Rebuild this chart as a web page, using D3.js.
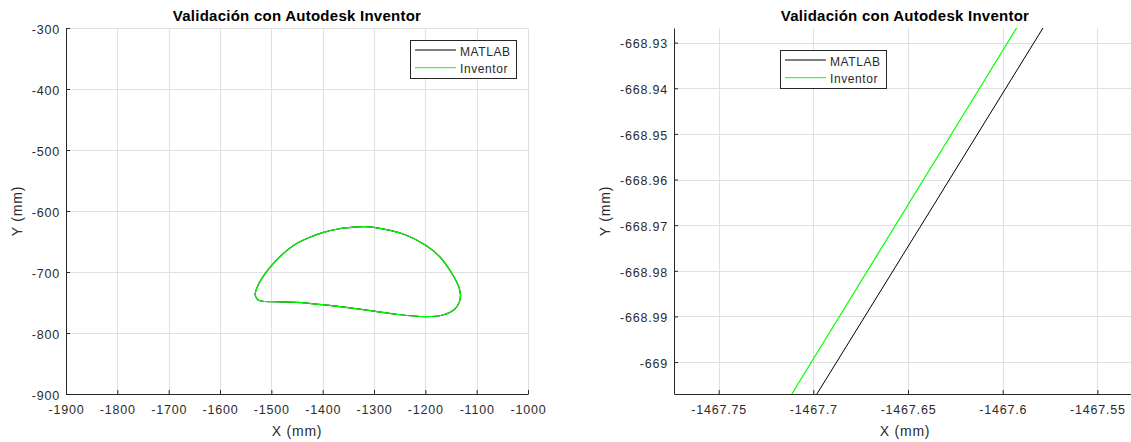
<!DOCTYPE html>
<html>
<head>
<meta charset="utf-8">
<script src="https://cdn.jsdelivr.net/npm/d3@7"></script>
<style>
  body { margin: 0; background: #ffffff; }
  svg { display: block; font-family: "Liberation Sans", Arial, Helvetica, sans-serif; }
</style>
</head>
<body>
<svg id="chart" width="1131" height="442"></svg>
<script>
// ---- Data -------------------------------------------------------------
const chartTitle = "Validación con Autodesk Inventor";
const seriesNames = ["MATLAB", "Inventor"];
const seriesColors = ["#000000", "#00ff00"];

// Full trajectory of the point (mm), clockwise from the leftmost point
const loopX = [-1531.5, -1527, -1518, -1505, -1488, -1470, -1450, -1425, -1400, -1370,
               -1340, -1320, -1300, -1243, -1200, -1172, -1150, -1135, -1131.5, -1133.5,
               -1143, -1166, -1200, -1256, -1300, -1400, -1450, -1500, -1517, -1527];
const loopY = [-737, -724, -710, -695, -679, -665, -653, -643, -635.5, -629.5,
               -626.5, -625.7, -626.8, -637.7, -655.7, -675, -700, -724, -737.7, -748.6,
               -761, -770.5, -773.2, -769.4, -764, -753.6, -749.7, -748.6, -748, -745];

// Close-up of the same trajectory around X = -1467.65 mm
const zoomMatlabX = [-1467.7026, -1467.6430, -1467.5686];
const zoomMatlabY = [-669.01, -668.97, -668.92];
const zoomInventorX = [-1467.7158, -1467.7010, -1467.6122, -1467.5826];
const zoomInventorY = [-669.01, -669.00, -668.94, -668.92];

// Tick values
const fullXTicks = [-1900, -1800, -1700, -1600, -1500, -1400, -1300, -1200, -1100, -1000];
const fullYTicks = [-900, -800, -700, -600, -500, -400, -300];
const zoomXTicks = [-1467.75, -1467.7, -1467.65, -1467.6, -1467.55];
const zoomYTicks = [-669, -668.99, -668.98, -668.97, -668.96, -668.95, -668.94, -668.93];

// ---- Layout -----------------------------------------------------------
const panels = [
  {
    key: "full",
    xDomain: [-1900, -1000], yDomain: [-900, -300],
    xRange: [66, 528], yRange: [394, 28],
    xTicks: fullXTicks, yTicks: fullYTicks,
    series: [
      { x: loopX, y: loopY, closed: true, width: 1.2 },
      { x: loopX, y: loopY, closed: true, width: 1.2 }
    ],
    legend: { x: 410, y: 40 },
    yLabelX: 22
  },
  {
    key: "zoom",
    xDomain: [-1467.7736, -1467.5296], yDomain: [-669.0070, -668.9268],
    xRange: [674, 1136], yRange: [394, 28],
    xTicks: zoomXTicks, yTicks: zoomYTicks,
    series: [
      { x: zoomMatlabX, y: zoomMatlabY, closed: false, width: 1.0 },
      { x: zoomInventorX, y: zoomInventorY, closed: false, width: 1.2 }
    ],
    legend: { x: 780, y: 50 },
    yLabelX: 610
  }
];

const AXIS_COLOR = "#262626";
const TEXT_COLOR = "#2b2b2b";
const GRID_COLOR = "#e0e0e0";
const fmt = v => String(+v.toFixed(2));

const svg = d3.select("#chart");
svg.append("rect").attr("width", 1131).attr("height", 442).attr("fill", "#ffffff");

panels.forEach(p => {
  const x = d3.scaleLinear().domain(p.xDomain).range(p.xRange);
  const y = d3.scaleLinear().domain(p.yDomain).range(p.yRange);
  const g = svg.append("g").attr("class", "panel-" + p.key);

  // grid
  const grid = g.append("g").attr("stroke", GRID_COLOR).attr("stroke-width", 1);
  grid.selectAll("line.vx").data(p.xTicks).join("line")
    .attr("x1", d => Math.round(x(d)) + 0.5).attr("x2", d => Math.round(x(d)) + 0.5)
    .attr("y1", p.yRange[1]).attr("y2", p.yRange[0]);
  grid.selectAll("line.hy").data(p.yTicks).join("line")
    .attr("y1", d => Math.round(y(d)) + 0.5).attr("y2", d => Math.round(y(d)) + 0.5)
    .attr("x1", p.xRange[0]).attr("x2", p.xRange[1]);

  // data lines, clipped to the axes box
  const clipId = "clip-" + p.key;
  svg.append("defs").append("clipPath").attr("id", clipId)
    .append("rect")
    .attr("x", p.xRange[0]).attr("y", p.yRange[1])
    .attr("width", p.xRange[1] - p.xRange[0]).attr("height", p.yRange[0] - p.yRange[1]);

  const lines = g.append("g").attr("clip-path", `url(#${clipId})`);
  p.series.forEach((s, i) => {
    const idx = d3.range(s.x.length);
    const gen = d3.line()
      .x(k => x(s.x[k])).y(k => y(s.y[k]))
      .curve(s.closed ? d3.curveCatmullRomClosed.alpha(0.5) : d3.curveLinear);
    lines.append("path")
      .attr("d", gen(idx))
      .attr("fill", "none")
      .attr("stroke", seriesColors[i])
      .attr("stroke-width", s.width)
      .attr("stroke-linejoin", "round");
  });

  // axes
  const xAxis = d3.axisBottom(x).tickValues(p.xTicks).tickFormat(fmt)
    .tickSizeInner(-4).tickSizeOuter(0).tickPadding(11);
  const yAxis = d3.axisLeft(y).tickValues(p.yTicks).tickFormat(fmt)
    .tickSizeInner(-4).tickSizeOuter(0).tickPadding(6);

  const gx = g.append("g").attr("transform", `translate(0,${p.yRange[0]})`).call(xAxis);
  const gy = g.append("g").attr("transform", `translate(${p.xRange[0]},0)`).call(yAxis);
  [gx, gy].forEach(a => {
    a.select(".domain").attr("stroke", AXIS_COLOR).attr("stroke-width", 1);
    a.selectAll(".tick line").attr("stroke", AXIS_COLOR);
    a.selectAll(".tick text")
      .attr("fill", TEXT_COLOR)
      .attr("font-size", 12.5)
      .attr("letter-spacing", "0.8px")
      .attr("font-family", "'Liberation Sans', Arial, sans-serif");
  });
  gy.selectAll(".tick text").attr("dy", "0.42em");

  // title
  const cx = (p.xRange[0] + p.xRange[1]) / 2;
  g.append("text")
    .attr("x", cx).attr("y", 20.5)
    .attr("text-anchor", "middle")
    .attr("font-size", 15).attr("font-weight", "bold")
    .attr("letter-spacing", "0.25px")
    .attr("fill", "#000000")
    .text(chartTitle);

  // axis labels
  g.append("text")
    .attr("x", cx).attr("y", 436)
    .attr("text-anchor", "middle")
    .attr("font-size", 14).attr("letter-spacing", "0.8px")
    .attr("fill", TEXT_COLOR)
    .text("X (mm)");
  g.append("text")
    .attr("transform", `translate(${p.yLabelX},${(p.yRange[0] + p.yRange[1]) / 2}) rotate(-90)`)
    .attr("text-anchor", "middle")
    .attr("font-size", 14).attr("letter-spacing", "0.8px")
    .attr("fill", TEXT_COLOR)
    .text("Y (mm)");

  // legend
  const lg = g.append("g").attr("transform", `translate(${p.legend.x},${p.legend.y})`);
  lg.append("rect")
    .attr("x", 0.5).attr("y", 0.5).attr("width", 106).attr("height", 38)
    .attr("fill", "#ffffff").attr("stroke", AXIS_COLOR).attr("stroke-width", 1);
  seriesNames.forEach((name, i) => {
    const ly = 10 + i * 17.7;
    lg.append("line")
      .attr("x1", 5).attr("x2", 46).attr("y1", ly).attr("y2", ly)
      .attr("stroke", seriesColors[i]).attr("stroke-width", 1);
    lg.append("text")
      .attr("x", 50).attr("y", ly + 5.6)
      .attr("font-size", 12).attr("letter-spacing", "0.6px")
      .attr("fill", TEXT_COLOR)
      .text(name);
  });
});
</script>
</body>
</html>
